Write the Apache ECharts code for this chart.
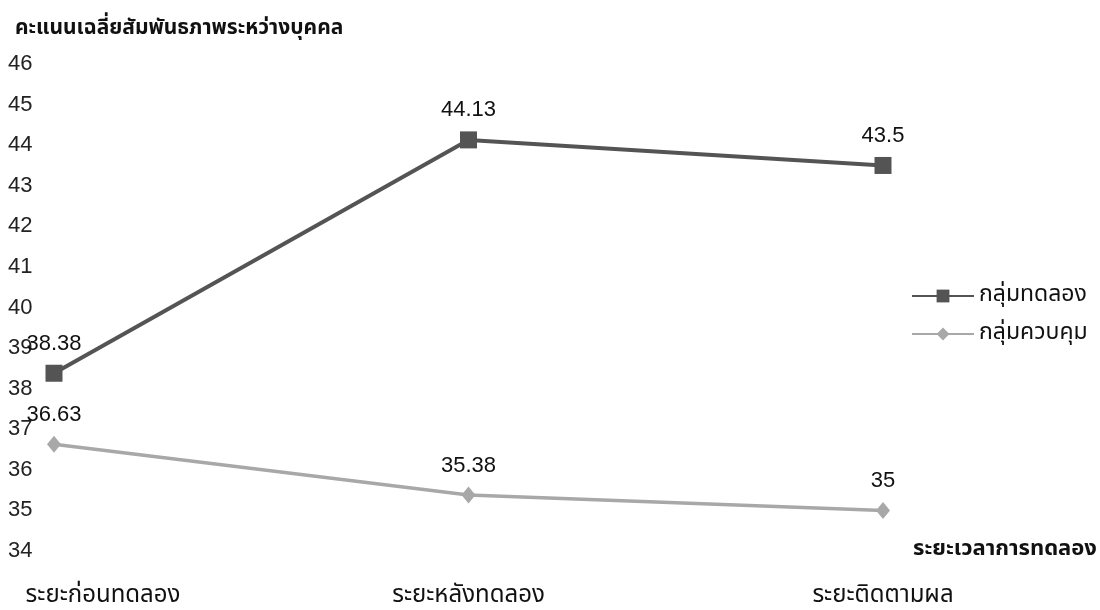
<!DOCTYPE html>
<html><head><meta charset="utf-8">
<script src="https://cdn.jsdelivr.net/npm/echarts@6/dist/echarts.min.js"></script>
<style>html,body{margin:0;padding:0;background:#fff}#c{width:1100px;height:610px}</style>
</head><body><div id="c"></div>
<script>
const categories = ['ระยะก่อนทดลอง', 'ระยะหลังทดลอง', 'ระยะติดตามผล'];
const experimental = [38.38, 44.13, 43.5];
const control = [36.63, 35.38, 35];
const seriesNames = ['กลุ่มทดลอง', 'กลุ่มควบคุม'];
const yTitle = 'คะแนนเฉลี่ยสัมพันธภาพระหว่างบุคคล';
const xTitle = 'ระยะเวลาการทดลอง';

const font = '"Noto Sans Thai", "Noto Sans", "Liberation Sans", sans-serif';
const numFont = '"Liberation Sans", Arial, sans-serif';

const chart = echarts.init(document.getElementById('c'));
chart.setOption({
  backgroundColor: '#fff',
  animation: false,
  textStyle: { fontFamily: font },
  title: {
    text: yTitle, left: 10, top: 14,
    textStyle: { fontSize: 21, fontWeight: 'bold', color: '#111', fontFamily: font }
  },
  legend: {
    orient: 'vertical', left: 906, top: 277, itemGap: 10,
    itemWidth: 62, itemHeight: 16,
    textStyle: { fontSize: 23, lineHeight: 28, color: '#111', fontFamily: font },
    data: seriesNames
  },
  grid: { left: 54, right: 217, top: 64, bottom: 59, containLabel: false, outerBoundsMode: 'none' },
  xAxis: {
    type: 'category', data: categories, boundaryGap: false,
    name: xTitle, nameLocation: 'end', nameGap: 30,
    nameTextStyle: { fontSize: 22, fontWeight: 'bold', color: '#111', align: 'left', verticalAlign: 'middle', padding: [0, 0, 12, 0], fontFamily: font },
    axisLine: { show: false }, axisTick: { show: false }, splitLine: { show: false },
    axisLabel: {
      margin: 33, fontSize: 24, lineHeight: 26, color: '#111', fontFamily: font,
      formatter: (v, i) => i === 0 ? '{f|' + v + '}' : v,
      rich: { f: { padding: [0, 0, 0, 98], fontSize: 24, lineHeight: 26, color: '#111', fontFamily: font } }
    }
  },
  yAxis: {
    type: 'value', min: 34, max: 46, interval: 1,
    axisLine: { show: false }, axisTick: { show: false }, splitLine: { show: false },
    axisLabel: { align: 'left', margin: 46, fontSize: 22, color: '#222', fontFamily: numFont }
  },
  series: [
    {
      name: seriesNames[0], type: 'line',
      data: experimental,
      symbol: 'rect', symbolSize: 17,
      lineStyle: { color: '#545454', width: 4 },
      itemStyle: { color: '#545454' },
      label: { show: true, position: 'top', distance: 10, fontSize: 22, color: '#111', fontFamily: numFont },
      z: 3
    },
    {
      name: seriesNames[1], type: 'line',
      data: control,
      symbol: 'diamond', symbolSize: [14, 17],
      lineStyle: { color: '#a8a8a8', width: 3.5 },
      itemStyle: { color: '#a8a8a8' },
      label: { show: true, position: 'top', distance: 10, fontSize: 22, color: '#111', fontFamily: numFont },
      z: 2
    }
  ]
});
</script>
</body></html>
